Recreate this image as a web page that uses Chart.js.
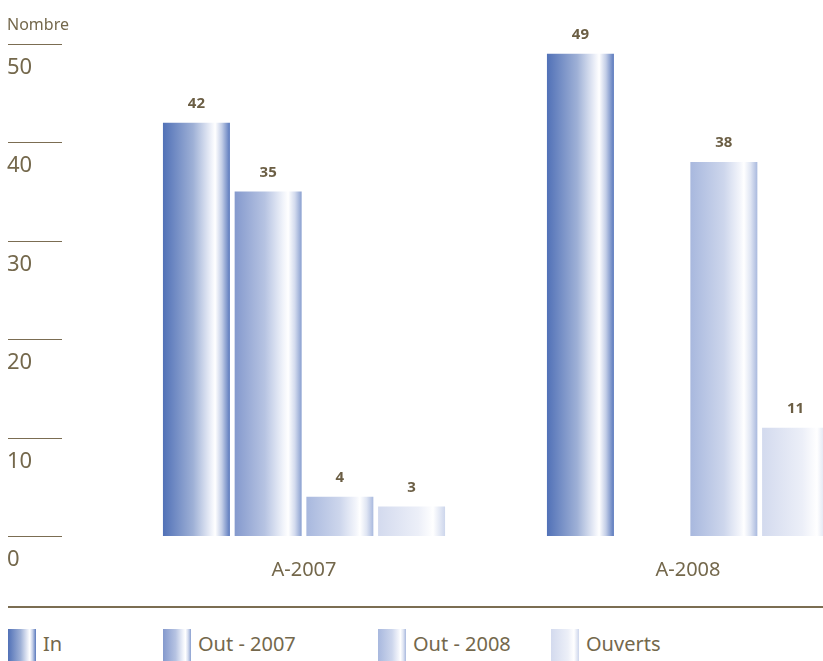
<!DOCTYPE html>
<html>
<head>
<meta charset="utf-8">
<script src="https://cdn.jsdelivr.net/npm/chart.js@4"></script>
<style>
  html, body { margin: 0; padding: 0; background: #fff; overflow: hidden; }
  #page { position: relative; width: 823px; height: 661px; overflow: hidden; font-family: "Noto Sans", sans-serif; }
  #chartBox { position: absolute; left: 0; top: 0; width: 880px; height: 596px; }
  #rule { position: absolute; left: 8px; top: 606px; width: 815px; height: 2px; background: #7b6d52; }
  .item { position: absolute; top: 629px; height: 32px; }
  .swatch { position: absolute; left: 0; top: 0; width: 28px; height: 32px; }
  .label { position: absolute; left: 35px; top: 0; line-height: 30px; font-size: 20px; color: #74684c; white-space: nowrap; }
</style>
</head>
<body>
<div id="page">
  <div id="chartBox"><canvas id="incidentChart"></canvas></div>
  <div id="rule"></div>
  <div id="legend"></div>
</div>
<script>
// Data
const categories = ['A-2007', 'A-2008'];
const seriesNames = ['In', 'Out - 2007', 'Out - 2008', 'Ouverts'];
const inValues = [42, 49];
const out2007Values = [35, null];
const out2008Values = [4, 38];
const ouvertsValues = [3, 11];
const yTicks = [0, 10, 20, 30, 40, 50];

const textColor = '#74684c';
const lineColor = '#7b6d52';

// gradient stops per series (left -> right)
const gradientStops = [
    [[0, '#5171b7'], [0.45, '#9eb0d6'], [0.72, '#eef1f9'], [0.78, '#ffffff'], [0.88, '#c3cee7'], [1, '#5a79bd']],
    [[0, '#8499cd'], [0.45, '#b6c3e2'], [0.72, '#f0f3fa'], [0.8, '#ffffff'], [0.9, '#d2daee'], [1, '#8aa0d0']],
    [[0, '#a8b8de'], [0.5, '#cdd6ec'], [0.74, '#f3f5fb'], [0.8, '#ffffff'], [0.9, '#dfe5f3'], [1, '#a9b9de']],
    [[0, '#d3daee'], [0.6, '#eceff8'], [0.82, '#ffffff'], [1, '#cdd6ec']]
];
const plainColors = ['#5171b7', '#8499cd', '#a8b8de', '#d3daee'];

function makeGradient(ctx, x0, x1, stops) {
    const g = ctx.createLinearGradient(x0, 0, x1, 0);
    stops.forEach(s => g.addColorStop(s[0], s[1]));
    return g;
}

// give each bar its own horizontal gradient once positions are known
const barGradients = {
    id: 'barGradients',
    afterDatasetsUpdate(chart) {
        chart.data.datasets.forEach((ds, i) => {
            chart.getDatasetMeta(i).data.forEach(el => {
                const left = el.x - el.width / 2;
                const g = makeGradient(chart.ctx, left, left + el.width, gradientStops[i]);
                el.options = Object.assign({}, el.options, { backgroundColor: g });
            });
        });
    }
};

// y ticks as short lines with labels beneath, plus axis title
const yAxisDecor = {
    id: 'yAxisDecor',
    afterDraw(chart) {
        const ctx = chart.ctx;
        const y = chart.scales.y;
        ctx.save();
        ctx.strokeStyle = lineColor;
        ctx.lineWidth = 1;
        ctx.fillStyle = textColor;
        ctx.textAlign = 'left';
        ctx.textBaseline = 'middle';
        ctx.font = '22px "Noto Sans"';
        yTicks.forEach(v => {
            const py = Math.round(y.getPixelForValue(v)) + 0.5;
            ctx.beginPath();
            ctx.moveTo(8, py);
            ctx.lineTo(62, py);
            ctx.stroke();
            ctx.fillText(String(v), 7, py + 23);
        });
        ctx.font = '16px "Noto Sans"';
        ctx.fillText('Nombre', 7, 25);
        ctx.restore();
    }
};

// value labels above bars
const valueLabels = {
    id: 'valueLabels',
    afterDatasetsDraw(chart) {
        const ctx = chart.ctx;
        ctx.save();
        ctx.fillStyle = '#6b5e44';
        ctx.font = 'bold 15px "Noto Sans"';
        ctx.textAlign = 'center';
        ctx.textBaseline = 'middle';
        chart.data.datasets.forEach((ds, i) => {
            chart.getDatasetMeta(i).data.forEach((el, j) => {
                const v = ds.data[j];
                if (v === null || v === undefined) return;
                ctx.fillText(String(v), el.x, el.y - 19);
            });
        });
        ctx.restore();
    }
};

const seriesValues = [inValues, out2007Values, out2008Values, ouvertsValues];

const ctx = document.getElementById('incidentChart').getContext('2d');
new Chart(ctx, {
    type: 'bar',
    data: {
        labels: categories,
        datasets: seriesNames.map((name, i) => ({
            label: name,
            data: seriesValues[i],
            backgroundColor: plainColors[i],
            borderWidth: 0,
            categoryPercentage: 0.747,
            barPercentage: 0.934
        }))
    },
    options: {
        responsive: true,
        maintainAspectRatio: false,
        animation: false,
        layout: { padding: { left: 112, top: 44, right: 0, bottom: 0 } },
        plugins: {
            legend: { display: false },
            tooltip: { enabled: false }
        },
        scales: {
            x: {
                grid: { display: false },
                border: { display: false },
                ticks: {
                    color: textColor,
                    padding: 14,
                    font: { family: 'Noto Sans', size: 20 }
                }
            },
            y: {
                display: false,
                min: 0,
                max: 50,
                ticks: { stepSize: 10 }
            }
        }
    },
    plugins: [barGradients, yAxisDecor, valueLabels]
});

// legend
const legendX = [8, 163, 378, 551];
const legendEl = document.getElementById('legend');
seriesNames.forEach((name, i) => {
    const item = document.createElement('div');
    item.className = 'item';
    item.style.left = legendX[i] + 'px';
    const sw = document.createElement('div');
    sw.className = 'swatch';
    sw.style.background = 'linear-gradient(to right, ' +
        gradientStops[i].map(s => s[1] + ' ' + (s[0] * 100) + '%').join(', ') + ')';
    const lb = document.createElement('div');
    lb.className = 'label';
    lb.textContent = name;
    item.appendChild(sw);
    item.appendChild(lb);
    legendEl.appendChild(item);
});
</script>
</body>
</html>
